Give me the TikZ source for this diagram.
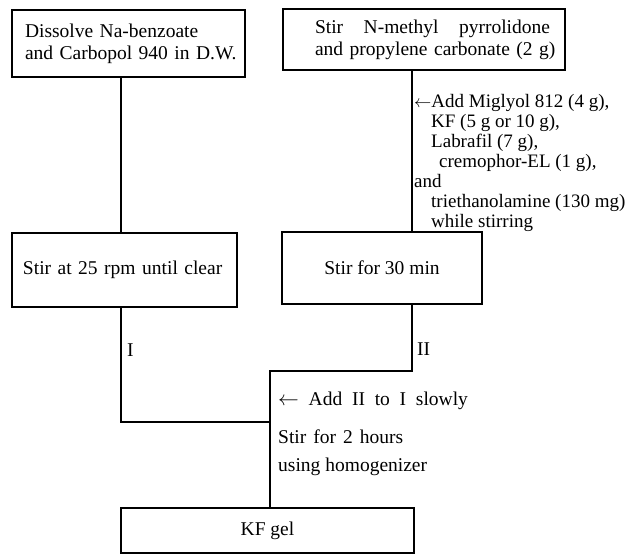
\documentclass[tikz,border=0pt]{standalone}
\usepackage{fontspec}
\setmainfont{Liberation Serif}
\begin{document}
\begin{tikzpicture}[x=1pt,y=-1pt,
  every node/.style={font=\fontsize{19.5}{22}\selectfont},
  procbox/.style={draw,line width=1.1pt,fill=white,rectangle},
  lbl/.style={inner sep=0pt,anchor=west},
  conn/.style={line width=1.1pt}]
\useasboundingbox (0,0) rectangle (629,555);

% side annotation (drawn before boxes so box 4 overlaps it)
\node[inner sep=0pt,anchor=north west,align=left,
      font=\fontsize{19}{20}\selectfont] (add1) at (414,94)
  {$\leftarrow$Add Miglyol 812 (4 g),\\
   \hspace*{17pt}KF (5 g or 10 g),\\
   \hspace*{17pt}Labrafil (7 g),\\
   \hspace*{25pt}cremophor-EL (1 g),\\
   and\\
   \hspace*{17pt}triethanolamine (130 mg)\\
   \hspace*{17pt}while stirring};

\node[procbox,minimum width=233pt,minimum height=67pt,inner xsep=13pt,
      text width=207pt,align=left] (b1) at (128.5,43.5)
  {\makebox[170pt][l]{Dissolve Na-benzoate}\\
   \makebox[207pt][l]{and Carbopol 940 in D.W.}};
\node[procbox,minimum width=282pt,minimum height=61pt,inner xsep=0pt,
      text width=282pt,align=left] (b2) at (424,39.5)
  {\hspace*{32pt}\makebox[235pt][l]{Stir\hfill N-methyl\hfill pyrrolidone}\\
   \hspace*{32pt}\makebox[235pt][l]{and propylene carbonate (2 g)}};
\node[procbox,minimum width=225pt,minimum height=74pt,inner xsep=11pt,
      text width=203pt,align=left] (b3) at (124.5,270)
  {Stir at 25 rpm until clear};
\node[procbox,minimum width=200pt,minimum height=72pt] (b4) at (382,268)
  {Stir for 30 min};
\node[procbox,minimum width=293pt,minimum height=45pt] (b5) at (267.5,530.5)
  {KF gel};

% connector geometry
\coordinate (L) at (121,0);
\coordinate (R) at (412,0);
\coordinate (M) at (270,0);
\coordinate (rj) at (412,371);
\coordinate (mj) at (270,371);
\coordinate (lj) at (121,422);

\draw[conn] (L |- b1.south) -- (L |- b3.north);
\draw[conn] (R |- b2.south) -- (R |- b4.north);
\draw[conn] (L |- b3.south) -- (lj) -- (lj -| M);
\draw[conn] (R |- b4.south) -- (rj) -- (mj) -- (mj |- b5.north);

% labels
\node[lbl] (l1) at (127,350) {I};
\node[lbl] (l2) at (417,349) {II};
\node[lbl] (a2) at (278,401) {$\leftarrow$\ \ Add\ \ II\ \ to\ \ I\ \ slowly};
\node[lbl] (a3) at (278,437) {Stir\hspace{7pt}for\hspace{7pt}2\hspace{7pt}hours};
\node[lbl] (a4) at (278,467) {using homogenizer};
\end{tikzpicture}
\end{document}
